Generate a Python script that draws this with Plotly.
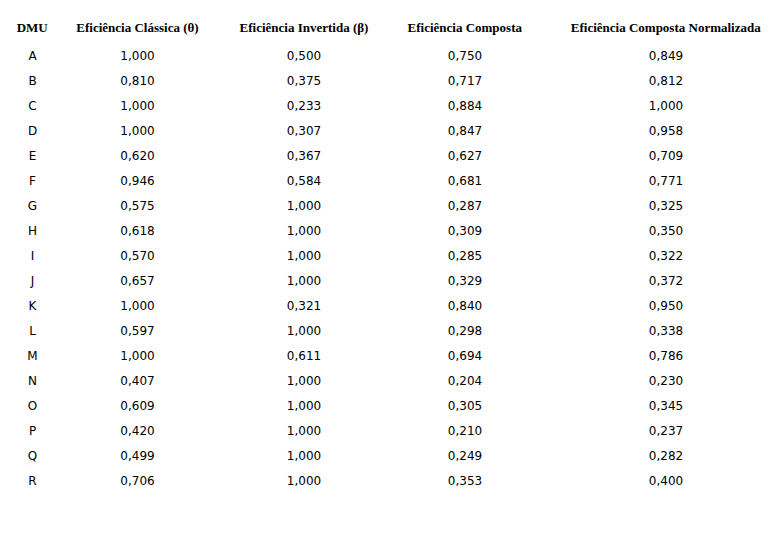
import plotly.graph_objects as go

headers = ["DMU", "Eficiência Clássica (θ)", "Eficiência Invertida (β)", "Eficiência Composta", "Eficiência Composta Normalizada"]
dmu = list("ABCDEFGHIJKLMNOPQR")
classica = ["1,000","0,810","1,000","1,000","0,620","0,946","0,575","0,618","0,570","0,657","1,000","0,597","1,000","0,407","0,609","0,420","0,499","0,706"]
invertida = ["0,500","0,375","0,233","0,307","0,367","0,584","1,000","1,000","1,000","1,000","0,321","1,000","0,611","1,000","1,000","1,000","1,000","1,000"]
composta = ["0,750","0,717","0,884","0,847","0,627","0,681","0,287","0,309","0,285","0,329","0,840","0,298","0,694","0,204","0,305","0,210","0,249","0,353"]
normalizada = ["0,849","0,812","1,000","0,958","0,709","0,771","0,325","0,350","0,322","0,372","0,950","0,338","0,786","0,230","0,345","0,237","0,282","0,400"]

fig = go.Figure(go.Table(
    columnwidth=[45, 165, 168, 154, 248],
    header=dict(values=["<b>" + h.replace(" ", "&nbsp;") + "</b>" for h in headers], align="center",
                font=dict(family="Liberation Serif", size=13, color="black"),
                fill_color="white", line_color="white", height=25),
    cells=dict(values=[dmu, classica, invertida, composta, normalizada], align="center",
               font=dict(family="DejaVu Sans", size=12, color="black"),
               fill_color="white", line_color="white", height=25),
))
fig.update_layout(width=784, height=534, margin=dict(l=2, r=2, t=4, b=0), paper_bgcolor="white")
fig.write_html("out.html")
